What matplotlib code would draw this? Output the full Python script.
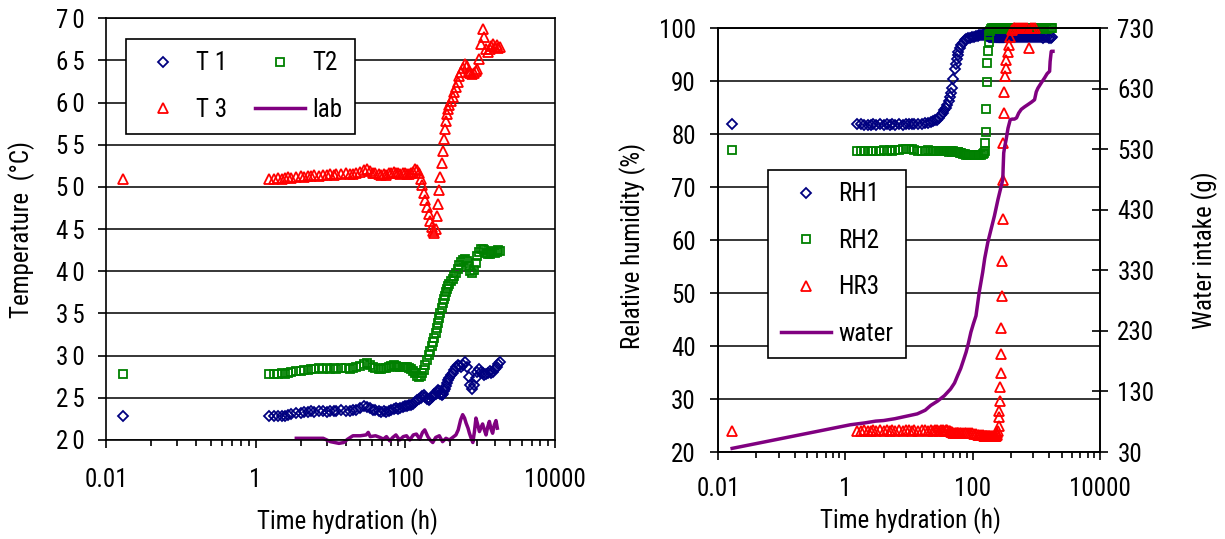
import numpy as np
import matplotlib
matplotlib.use('Agg')
from matplotlib import pyplot as plt
from matplotlib import font_manager
from matplotlib.ticker import FixedLocator, FixedFormatter, NullFormatter

# probe temperatures (left panel), sampling times in hours
hours = [0.0167, 1.5, 1.75, 2, 2.25, 2.5, 2.75, 3, 3.5, 4,
         4.5, 5, 5.5, 6, 7, 8, 9, 10, 11, 12,
         14, 16, 18, 20, 22, 25, 28, 31, 34, 37,
         40, 44, 48, 52, 56, 60, 65, 70, 75, 80,
         86, 92, 98, 105, 112, 120, 128, 136, 144, 152,
         160, 168, 176, 185, 195, 205, 215, 225, 235, 245,
         255, 265, 275, 285, 295, 305, 315, 325, 335, 345,
         360, 375, 390, 410, 430, 450, 475, 500, 530, 560,
         590, 620, 660, 700, 740, 780, 820, 870, 920, 970,
         1020, 1080, 1140, 1200, 1270, 1340, 1420, 1500, 1580, 1660,
         1750, 1850]

t1 = [22.8, 22.8, 22.8, 22.8, 22.9, 22.8, 23.0, 23.1, 23.2, 23.2,
      23.3, 23.3, 23.4, 23.3, 23.4, 23.4, 23.3, 23.4, 23.4, 23.4,
      23.5, 23.4, 23.4, 23.5, 23.6, 23.8, 24.0, 23.9, 23.8, 23.6,
      23.5, 23.4, 23.3, 23.4, 23.3, 23.4, 23.6, 23.7, 23.8, 23.7,
      23.8, 23.9, 24.0, 24.0, 24.1, 24.2, 24.3, 24.5, 24.7, 24.9,
      25.0, 25.2, 25.3, 25.1, 24.9, 24.8, 24.9, 25.1, 25.2, 25.4,
      25.5, 25.7, 25.9, 25.8, 25.5, 25.3, 25.5, 25.8, 26.1, 26.4,
      26.8, 27.1, 27.4, 27.7, 28.0, 28.3, 28.6, 28.9, 28.8, 28.6,
      28.9, 29.2, 28.6, 27.5, 26.5, 26.0, 26.5, 27.4, 28.1, 28.4,
      28.1, 27.9, 27.7, 27.8, 28.0, 28.2, 28.0, 28.1, 28.4, 28.7,
      29.0, 29.3]

t2 = [27.8, 27.8, 27.8, 27.8, 27.9, 27.8, 28.0, 28.1, 28.2, 28.2,
      28.3, 28.3, 28.4, 28.4, 28.5, 28.4, 28.5, 28.4, 28.5, 28.4,
      28.5, 28.5, 28.4, 28.5, 28.6, 28.8, 29.0, 29.1, 28.9, 28.7,
      28.5, 28.4, 28.4, 28.5, 28.5, 28.6, 28.8, 28.9, 28.8, 28.7,
      28.6, 28.7, 28.7, 28.6, 28.5, 28.4, 28.2, 27.9, 27.6, 27.5,
      27.6, 27.9, 28.3, 28.9, 29.5, 30.1, 30.6, 31.1, 31.6, 32.1,
      32.7, 33.3, 33.9, 34.5, 35.1, 35.7, 36.2, 36.7, 37.1, 37.5,
      37.9, 38.2, 38.5, 38.8, 39.1, 39.4, 39.8, 40.3, 40.8, 41.1,
      41.3, 41.4, 41.2, 40.6, 40.0, 39.8, 40.2, 41.0, 41.8, 42.3,
      42.6, 42.7, 42.5, 42.2, 42.0, 42.1, 42.3, 42.4, 42.2, 42.3,
      42.5, 42.4]

t3 = [51.0, 51.0, 51.0, 51.1, 51.0, 51.1, 51.2, 51.1, 51.2, 51.3,
      51.2, 51.3, 51.3, 51.4, 51.3, 51.4, 51.4, 51.5, 51.4, 51.5,
      51.5, 51.6, 51.5, 51.5, 51.6, 51.8, 52.0, 52.1, 51.9, 51.7,
      51.6, 51.5, 51.4, 51.5, 51.4, 51.6, 51.7, 51.8, 51.7, 51.6,
      51.5, 51.6, 51.6, 51.5, 51.5, 51.6, 51.8, 52.1, 52.0, 51.6,
      51.0, 50.2, 49.3, 48.5, 47.6, 46.8, 46.0, 45.3, 44.8, 44.5,
      45.0, 46.5, 48.0, 49.6, 51.2, 52.8, 54.3, 55.7, 56.9, 57.8,
      58.6, 59.2, 59.7, 60.2, 60.7, 61.2, 61.9, 62.5, 63.1, 63.6,
      64.1, 64.6, 64.3, 63.8, 63.5, 63.4, 63.5, 63.7, 64.0, 65.2,
      67.0, 68.7, 67.8, 66.4, 66.0, 66.3, 66.7, 66.9, 66.6, 66.8,
      66.5, 66.6]

# laboratory air temperature
lab_hours = [3.5, 5, 6.5, 8, 10, 13, 15, 17, 20, 25,
             30, 32, 34, 40, 46, 51, 56, 62, 68, 75,
             84, 94, 104, 115, 128, 141, 156, 170, 182, 200,
             215, 233, 255, 285, 315, 350, 387, 430, 475, 510,
             550, 585, 620, 650, 690, 720, 760, 800, 840, 880,
             930, 980, 1030, 1080, 1140, 1200, 1260, 1330, 1400, 1470,
             1550, 1630, 1700]
lab_temp = [20.2, 20.2, 20.2, 20.2, 19.8, 19.6, 19.7, 20.1, 20.5, 20.5,
            20.6, 20.9, 20.4, 20.5, 20.3, 20.1, 20.4, 19.9, 20.3, 20.6,
            20.0, 20.4, 20.5, 20.0, 20.6, 20.7, 20.1, 20.9, 21.2, 20.4,
            20.0, 19.7, 20.3, 20.5, 19.8, 20.2, 20.0, 20.3, 20.6, 21.2,
            22.4, 23.0, 22.6, 22.0, 21.4, 20.8, 20.2, 19.7, 21.0, 22.6,
            21.8, 21.0, 21.5, 21.9, 21.2, 20.6, 21.5, 22.2, 21.3, 20.8,
            21.8, 22.3, 21.4]

# relative humidity probes (right panel)
rh_hours = [0.0167, 1.5, 1.75, 2, 2.25, 2.5, 2.75, 3, 3.5, 4,
            4.5, 5, 5.5, 6, 7, 8, 9, 10, 11, 12,
            14, 16, 18, 20, 22, 24, 26, 28, 30, 32,
            34, 36, 38, 40, 42, 44, 46, 48, 50, 52,
            54, 56, 58, 60, 63, 66, 70, 75, 80, 86,
            92, 98, 105, 112, 120, 128, 136, 144, 150, 155,
            158, 161, 164, 167, 170, 174, 178, 183, 188, 194,
            200, 207, 214, 222, 230, 238, 246, 252, 256, 260,
            264, 268, 272, 276, 280, 284, 288, 292, 296, 300,
            305, 310, 316, 322, 330, 340, 355, 370, 390, 410,
            440, 470, 500, 540, 580, 620, 670, 720, 780, 840,
            900, 970, 1040, 1120, 1200, 1290, 1380, 1480, 1580, 1680,
            1780]

rh1 = [82.0, 82.0, 81.9, 81.8, 81.7, 81.8, 81.9, 81.8, 81.9, 81.8,
       81.9, 81.8, 81.9, 81.8, 81.9, 81.8, 81.9, 82.0, 81.9, 82.0,
       82.0, 82.0, 82.1, 82.2, 82.4, 82.5, 82.6, 82.7, 83.0, 83.6,
       84.0, 84.5, 85.0, 85.6, 86.3, 87.0, 87.8, 88.8, 90.5, 92.4,
       93.3, 94.2, 94.9, 95.5, 96.2, 96.8, 97.3, 97.7, 97.9, 98.1,
       98.2, 98.3, 98.4, 98.5, 98.6, 98.7, 98.8, 98.8, 98.9, 98.9,
       98.9, 98.8, 98.8, 98.7, 98.6, 98.5, 98.5, 98.4, 98.4, 98.4,
       98.4, 98.3, 98.4, 98.4, 98.3, 98.4, 98.4, 98.3, 98.4, 98.4,
       98.3, 98.4, 98.4, 98.3, 98.4, 98.4, 98.3, 98.4, 98.4, 98.3,
       98.4, 98.4, 98.3, 98.4, 98.4, 98.3, 98.4, 98.4, 98.3, 98.4,
       98.4, 98.3, 98.4, 98.4, 98.3, 98.4, 98.4, 98.3, 98.4, 98.4,
       98.3, 98.4, 98.4, 98.3, 98.4, 98.2, 98.3, 98.4, 98.2, 98.1,
       98.3]

rh2 = [77.0, 76.9, 76.9, 76.8, 76.9, 76.9, 76.8, 76.9, 76.9, 77.0,
       76.9, 77.0, 76.9, 77.0, 77.1, 77.2, 77.3, 77.3, 77.2, 77.0,
       76.9, 76.9, 76.9, 77.0, 76.9, 76.9, 76.8, 76.9, 76.9, 76.8,
       76.8, 76.9, 76.8, 76.8, 76.7, 76.8, 76.8, 76.7, 76.8, 76.7,
       76.7, 76.6, 76.7, 76.6, 76.5, 76.4, 76.3, 76.2, 76.1, 76.1,
       76.0, 76.0, 76.0, 76.0, 76.0, 76.1, 76.1, 76.2, 76.4, 76.8,
       78.3, 80.5, 84.8, 89.8, 93.5, 95.8, 97.5, 98.8, 99.5, 99.8,
       100.0, 99.9, 100.0, 99.9, 100.0, 99.9, 100.0, 100.0, 99.9, 100.0,
       100.0, 99.9, 100.0, 100.0, 99.9, 100.0, 100.0, 99.9, 100.0, 100.0,
       100.0, 99.9, 100.0, 100.0, 99.9, 100.0, 100.0, 99.9, 100.0, 100.0,
       100.0, 99.9, 100.0, 100.0, 99.9, 100.0, 100.0, 99.9, 100.0, 100.0,
       100.0, 99.9, 100.0, 100.0, 99.9, 100.0, 100.0, 99.9, 100.0, 100.0,
       100.0]

# third probe stops logging after ~970 h
hr3 = [24.0, 24.0, 24.0, 24.1, 24.0, 24.0, 24.1, 24.0, 24.1, 24.0,
       24.1, 24.0, 24.1, 24.0, 24.1, 24.0, 24.1, 24.1, 24.0, 24.1,
       24.0, 24.1, 24.1, 24.0, 24.1, 24.0, 24.1, 24.1, 24.0, 24.1,
       24.1, 24.0, 24.1, 24.1, 24.0, 23.9, 23.8, 23.7, 23.6, 23.6,
       23.6, 23.5, 23.6, 23.5, 23.5, 23.6, 23.5, 23.5, 23.6, 23.5,
       23.5, 23.5, 23.4, 23.4, 23.3, 23.3, 23.2, 23.2, 23.1, 23.1,
       23.1, 23.0, 23.1, 23.0, 23.1, 23.0, 23.1, 23.0, 23.1, 23.0,
       23.1, 23.0, 23.1, 23.0, 23.1, 23.2, 23.5, 24.0, 25.0, 26.6,
       27.8, 29.7, 32.2, 35.0, 38.5, 43.5, 49.5, 56.1, 63.9, 71.4,
       78.3, 84.0, 88.0, 90.9, 92.5, 94.0, 95.6, 96.8, 98.4, 99.7,
       100.0, 100.0, 100.0, 100.0, 100.0, 100.0, 100.0, 100.0, 96.2, 100.0,
       100.0, 100.0]

# cumulative water intake (g)
water_hours = [0.0167, 1.2, 2, 3, 4, 6, 9, 13.5, 18, 22,
               28, 36, 45, 52, 58, 65, 72, 79, 86, 94,
               103, 113, 120, 127, 135, 144, 155, 173, 195, 220,
               250, 275, 298, 302, 308, 320, 336, 360, 390, 420,
               454, 490, 530, 580, 650, 740, 840, 940, 1000, 1060,
               1200, 1350, 1480, 1620, 1650, 1720, 1830]
water_g = [36, 75, 78, 81, 82, 85, 89, 93, 99, 107,
           114, 123, 134, 144, 156, 168, 182, 195, 210, 228,
           242, 255, 275, 294, 310, 327, 350, 376, 398, 420,
           447, 465, 480, 500, 524, 535, 546, 565, 579, 580,
           580, 582, 590, 596, 600, 604, 608, 612, 625, 631,
           640, 648, 655, 659, 675, 692, 692]

time_ticks = [0.01, 1, 100, 10000]
time_labels = ['0.01', '1', '100', '10000']
temp_ticks = [20, 25, 30, 35, 40, 45, 50, 55, 60, 65, 70]
rh_ticks = [20, 30, 40, 50, 60, 70, 80, 90, 100]
water_ticks = [30, 130, 230, 330, 430, 530, 630, 730]

navy = '#000080'
green = '#008000'
red = '#FF0000'
purple = '#800080'

# pick a narrow face if one is installed
fonts = font_manager.fontManager.ttflist
installed = {f.name for f in fonts}
face, stretch = 'Liberation Sans', 'normal'
for name in ['Liberation Sans Narrow', 'Arial Narrow', 'Roboto Condensed',
             'Open Sans Condensed', 'Noto Sans Condensed']:
    if name in installed:
        face = name
        break
else:
    for f in fonts:
        if f.name in ('Liberation Sans', 'Roboto', 'Noto Sans', 'Open Sans', 'DejaVu Sans') \
                and f.stretch in ('condensed', 'semi-condensed', 'extra-condensed'):
            face, stretch = f.name, f.stretch
            break

plt.rcParams['font.family'] = [face, 'DejaVu Sans']
plt.rcParams['font.stretch'] = stretch
plt.rcParams['font.size'] = 18
plt.rcParams['axes.linewidth'] = 1.2


def time_axis(ax, label_pad):
    ax.set_xscale('log')
    ax.set_xlim(0.01, 10000)
    ax.xaxis.set_major_locator(FixedLocator(time_ticks))
    ax.xaxis.set_major_formatter(FixedFormatter(time_labels))
    # base-100 log axis: minor ticks at k^2 times each major
    minors = [b * k * k for b in time_ticks[:-1] for k in range(2, 10)]
    ax.xaxis.set_minor_locator(FixedLocator(minors))
    ax.xaxis.set_minor_formatter(NullFormatter())
    ax.tick_params(axis='x', which='major', direction='out', length=6, width=1.2, pad=label_pad)
    ax.tick_params(axis='x', which='minor', direction='out', length=4, width=1.2)
    ax.yaxis.grid(True, color='black', linewidth=1.1)
    ax.set_axisbelow(True)


def markers(ax, x, y, marker, color, size, label):
    line, = ax.plot(x, y, linestyle='none', marker=marker, mfc='none', mec=color,
                    ms=size, mew=1.3, clip_on=False, label=label)
    return line


fig = plt.figure(figsize=(12.25, 5.39), dpi=100)

# ---- temperatures ----
ax1 = fig.add_axes([0.0865, 0.1837, 0.3665, 0.7824])
time_axis(ax1, 14)
ax1.set_ylim(20, 70)
ax1.yaxis.set_major_locator(FixedLocator(temp_ticks))
ax1.yaxis.set_major_formatter(FixedFormatter(['\u2006'.join(str(v)) for v in temp_ticks]))
ax1.tick_params(axis='y', direction='out', length=6, width=1.2, pad=9)

h1 = markers(ax1, hours, t1, 'D', navy, 5.2, 'T 1')
h2 = markers(ax1, hours, t2, 's', green, 5.6, 'T2')
h3 = markers(ax1, hours, t3, '^', red, 7, 'T 3')
h4, = ax1.plot(lab_hours, lab_temp, color=purple, linewidth=2.5, clip_on=False, label='lab')

ax1.set_xlabel('Time hydration (h)', va='center')
ax1.xaxis.set_label_coords(0.537, -0.1945)
ax1.set_ylabel('Temperature  (°C)', va='center')
ax1.yaxis.set_label_coords(-0.187, 0.5)

leg = ax1.legend([h1, h3, h2, h4], ['T 1', 'T 3', 'T2', 'lab'], ncol=2,
                 loc='upper left', bbox_to_anchor=(0.0445, 0.951), borderaxespad=0,
                 fancybox=False, edgecolor='black', framealpha=1,
                 handlelength=2.0, handletextpad=0.3, columnspacing=1.1,
                 labelspacing=0.9, borderpad=0.5)
leg.get_frame().set_linewidth(1.2)

# ---- humidity and water intake ----
ax2 = fig.add_axes([0.5861, 0.1614, 0.3118, 0.7861])
time_axis(ax2, 12)
ax2.set_ylim(20, 100)
ax2.yaxis.set_major_locator(FixedLocator(rh_ticks))
ax2.tick_params(axis='y', direction='out', length=6, width=1.2, pad=10)

ax3 = ax2.twinx()
ax3.set_ylim(30, 730)
ax3.yaxis.set_major_locator(FixedLocator(water_ticks))
ax3.tick_params(axis='y', direction='inout', length=11, width=1.2, pad=7)

r1 = markers(ax2, rh_hours, rh1, 'D', navy, 5.2, 'RH1')
r2 = markers(ax2, rh_hours, rh2, 's', green, 5.6, 'RH2')
r3 = markers(ax2, rh_hours[:len(hr3)], hr3, '^', red, 7, 'HR3')
w, = ax3.plot(water_hours, water_g, color=purple, linewidth=2.5, label='water')

ax2.set_xlabel('Time hydration (h)', va='center')
ax2.xaxis.set_label_coords(0.503, -0.163)
ax2.set_ylabel('Relative humidity (%)', va='center')
ax2.yaxis.set_label_coords(-0.2225, 0.486)
ax3.set_ylabel('Water intake (g)', va='center')
ax3.yaxis.set_label_coords(1.275, 0.477)

leg2 = ax3.legend([r1, r2, r3, w], ['RH1', 'RH2', 'HR3', 'water'],
                  loc='upper left', bbox_to_anchor=(0.131, 0.6656), borderaxespad=0,
                  fancybox=False, edgecolor='black', framealpha=1,
                  handlelength=2.0, handletextpad=0.3,
                  labelspacing=0.9, borderpad=0.5)
leg2.get_frame().set_linewidth(1.2)

fig.savefig('out.png', dpi=100, facecolor='white')
